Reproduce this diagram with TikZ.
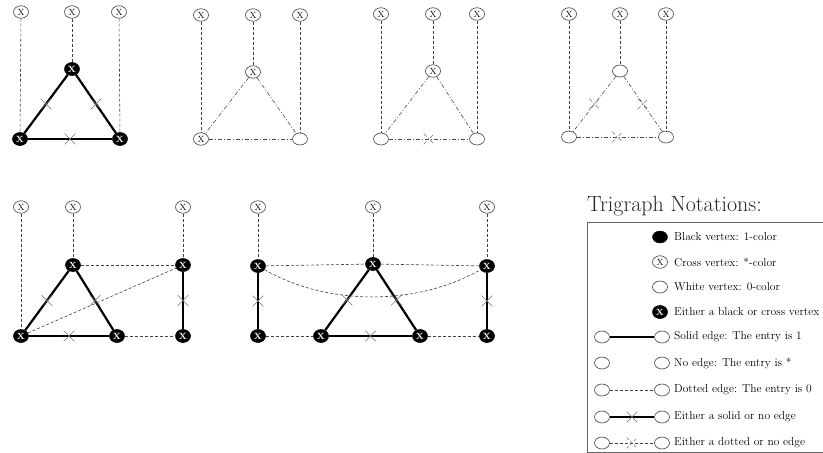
\documentclass[tikz,border=0pt]{standalone}
\usetikzlibrary{shapes.geometric,shapes.misc}
\begin{document}
\begin{tikzpicture}[x=1pt,y=-1pt,
  cxv/.style={ellipse, draw=black!75, fill=white, minimum width=15pt, minimum height=12.5pt, inner sep=0pt, line width=0.6pt, font=\fontsize{9}{9}\selectfont},
  bxv/.style={cxv, fill=black, draw=black, text=white, minimum height=13pt, font=\bfseries\fontsize{9}{9}\selectfont},
  wv/.style={ellipse, draw=black!75, fill=white, minimum width=15pt, minimum height=12pt, inner sep=0pt, line width=0.6pt},
  bv/.style={ellipse, draw=black, fill=black, minimum width=15pt, minimum height=12pt, inner sep=0pt},
  vline/.style={draw=black!75, line width=0.6pt, dash pattern=on 3pt off 2pt},
  dd/.style={draw=black!70, line width=0.6pt, dash pattern=on 4pt off 2pt on 1pt off 2pt},
  thk/.style={draw=black, line width=2.2pt},
  lgthk/.style={draw=black, line width=1.4pt},
  xm/.style={cross out, draw=black!55, minimum size=10pt, inner sep=0pt, line width=0.6pt},
  lbl/.style={anchor=west, inner sep=0pt, font=\fontsize{11.5}{13.5}\selectfont}
]
\useasboundingbox (0,0) rectangle (823,453);

% ---------- Panel 1 ----------
\node[cxv] (p1t1) at (21,12) {X};
\node[cxv] (p1t2) at (72,12) {X};
\node[cxv] (p1t3) at (119,12) {X};
\node[bxv] (p1a) at (72,69) {X};
\node[bxv] (p1b) at (20,139) {X};
\node[bxv] (p1c) at (120,139) {X};
\draw[vline] (p1t1) -- (p1b);
\draw[vline] (p1t2) -- (p1a);
\draw[vline] (p1t3) -- (p1c);
\draw[thk] (p1a) -- node[xm]{} (p1b);
\draw[thk] (p1a) -- node[xm]{} (p1c);
\draw[thk] (p1b) -- node[xm]{} (p1c);

% ---------- Panel 2 ----------
\node[cxv] (p2t1) at (201,15) {X};
\node[cxv] (p2t2) at (253,15) {X};
\node[cxv] (p2t3) at (300,15) {X};
\node[cxv] (p2a) at (253,72) {X};
\node[cxv] (p2b) at (201,139) {X};
\node[wv] (p2c) at (300,139) {};
\draw[vline] (p2t1) -- (p2b);
\draw[vline] (p2t2) -- (p2a);
\draw[vline] (p2t3) -- (p2c);
\draw[dd] (p2a) -- (p2b);
\draw[dd] (p2a) -- (p2c);
\draw[dd] (p2b) -- (p2c);

% ---------- Panel 3 ----------
\node[cxv] (p3t1) at (381,14) {X};
\node[cxv] (p3t2) at (433,14) {X};
\node[cxv] (p3t3) at (477,14) {X};
\node[cxv] (p3a) at (433,71) {X};
\node[wv] (p3b) at (381,139) {};
\node[wv] (p3c) at (477,139) {};
\draw[vline] (p3t1) -- (p3b);
\draw[vline] (p3t2) -- (p3a);
\draw[vline] (p3t3) -- (p3c);
\draw[dd] (p3a) -- (p3b);
\draw[dd] (p3a) -- (p3c);
\draw[dd] (p3b) -- node[xm]{} (p3c);

% ---------- Panel 4 ----------
\node[cxv] (p4t1) at (569,14) {X};
\node[cxv] (p4t2) at (620,14) {X};
\node[cxv] (p4t3) at (666,14) {X};
\node[wv] (p4a) at (620,71) {};
\node[wv] (p4b) at (569,137) {};
\node[wv] (p4c) at (666,137) {};
\draw[vline] (p4t1) -- (p4b);
\draw[vline] (p4t2) -- (p4a);
\draw[vline] (p4t3) -- (p4c);
\draw[dd] (p4a) -- node[xm]{} (p4b);
\draw[dd] (p4a) -- node[xm]{} (p4c);
\draw[dd] (p4b) -- node[xm]{} (p4c);

% ---------- Panel 5 ----------
\node[cxv] (p5t1) at (21,207) {X};
\node[cxv] (p5t2) at (73,207) {X};
\node[cxv] (p5t3) at (183,207) {X};
\node[bxv] (p5a) at (73,265) {X};
\node[bxv] (p5b) at (21,336) {X};
\node[bxv] (p5c) at (117,336) {X};
\node[bxv] (p5d) at (183,265) {X};
\node[bxv] (p5e) at (183,336) {X};
\draw[vline] (p5t1) -- (p5b);
\draw[vline] (p5t2) -- (p5a);
\draw[vline] (p5t3) -- (p5d);
\draw[vline] (p5a) -- (p5d);
\draw[vline] (p5b) -- (p5d);
\draw[vline] (p5c) -- (p5e);
\draw[thk] (p5a) -- node[xm]{} (p5b);
\draw[thk] (p5a) -- node[xm]{} (p5c);
\draw[thk] (p5b) -- node[xm]{} (p5c);
\draw[thk] (p5d) -- node[xm]{} (p5e);

% ---------- Panel 6 ----------
\node[cxv] (p6t1) at (258,207) {X};
\node[cxv] (p6t2) at (373,207) {X};
\node[cxv] (p6t3) at (487,207) {X};
\node[bxv] (p6a) at (258,266) {X};
\node[bxv] (p6b) at (373,264) {X};
\node[bxv] (p6c) at (487,266) {X};
\node[bxv] (p6d) at (258,336) {X};
\node[bxv] (p6e) at (321,336) {X};
\node[bxv] (p6f) at (420,336) {X};
\node[bxv] (p6g) at (487,336) {X};
\draw[vline] (p6t1) -- (p6a);
\draw[vline] (p6t2) -- (p6b);
\draw[vline] (p6t3) -- (p6c);
\draw[vline] (p6a) -- (p6b);
\draw[vline] (p6b) -- (p6c);
\draw[vline] (p6a) .. controls +(70,40) and +(-70,40) .. (p6c);
\draw[vline] (p6d) -- (p6e);
\draw[vline] (p6f) -- (p6g);
\draw[thk] (p6a) -- node[xm]{} (p6d);
\draw[thk] (p6c) -- node[xm]{} (p6g);
\draw[thk] (p6b) -- node[xm]{} (p6e);
\draw[thk] (p6b) -- node[xm]{} (p6f);
\draw[thk] (p6e) -- node[xm]{} (p6f);

% ---------- Legend ----------
\node[anchor=base west, inner sep=0pt, text=black!85, font=\fontsize{22}{25}\selectfont] (title) at (587,211) {Trigraph Notations:};
\draw[black!60, line width=0.8pt] (587,222) rectangle (830,452);

\node[bv] (l1) at (660,237) {};
\node[lbl] (l1t) at (674,237) {Black vertex: 1-color};
\node[cxv] (l2) at (660,262) {X};
\node[lbl] (l2t) at (674,262) {Cross vertex: *-color};
\node[wv] (l3) at (660,287) {};
\node[lbl] (l3t) at (674,287) {White vertex: 0-color};
\node[bxv] (l4) at (660,312) {X};
\node[lbl] (l4t) at (674,312) {Either a black or cross vertex};

\node[wv] (l5a) at (602,337) {};
\node[wv] (l5b) at (662,337) {};
\draw[lgthk] (l5a) -- (l5b);
\node[lbl] (l5t) at (674,337) {Solid edge: The entry is 1};

\node[wv] (l6a) at (602,363) {};
\node[wv] (l6b) at (662,363) {};
\node[lbl] (l6t) at (674,363) {No edge: The entry is *};

\node[wv] (l7a) at (602,390) {};
\node[wv] (l7b) at (662,390) {};
\draw[vline] (l7a) -- (l7b);
\node[lbl] (l7t) at (674,390) {Dotted edge: The entry is 0};

\node[wv] (l8a) at (602,417) {};
\node[wv] (l8b) at (662,417) {};
\draw[lgthk] (l8a) -- node[xm]{} (l8b);
\node[lbl] (l8t) at (674,417) {Either a solid or no edge};

\node[wv] (l9a) at (602,443) {};
\node[wv] (l9b) at (662,443) {};
\draw[vline] (l9a) -- node[xm]{} (l9b);
\node[lbl] (l9t) at (674,443) {Either a dotted or no edge};
\end{tikzpicture}
\end{document}
